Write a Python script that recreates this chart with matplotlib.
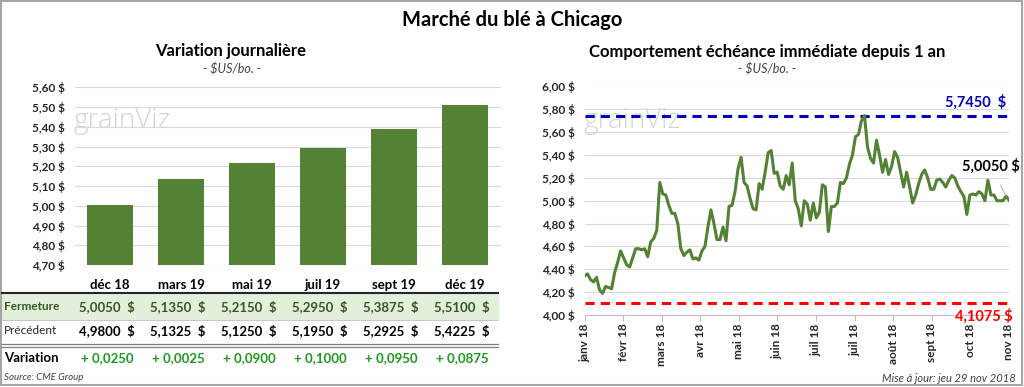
import numpy as np
import matplotlib.pyplot as plt
from matplotlib.patches import Rectangle
from matplotlib.lines import Line2D
from matplotlib.ticker import FuncFormatter

plt.rcParams['font.family'] = ['Lato', 'DejaVu Sans']

# Left panel data: closing prices per contract
contracts = ["déc 18", "mars 19", "mai 19", "juil 19", "sept 19", "déc 19"]
closing = [5.0050, 5.1350, 5.2150, 5.2950, 5.3875, 5.5100]
previous = [4.9800, 5.1325, 5.1250, 5.1950, 5.2925, 5.4225]
variation = [0.0250, 0.0025, 0.0900, 0.1000, 0.0950, 0.0875]

# Right panel data: nearby contract, last 12 months
price = [
    4.34, 4.36, 4.31, 4.29, 4.33, 4.22, 4.19, 4.25, 4.24, 4.23,
    4.37, 4.46, 4.56, 4.50, 4.44, 4.42, 4.50, 4.58, 4.58, 4.57,
    4.58, 4.51, 4.64, 4.67, 4.74, 5.16, 5.06, 5.05, 4.96, 4.89,
    4.89, 4.80, 4.58, 4.52, 4.55, 4.57, 4.49, 4.50, 4.48, 4.56,
    4.60, 4.77, 4.92, 4.80, 4.66, 4.66, 4.77, 4.65, 4.95,
    4.96, 5.08, 5.28, 5.38, 5.16, 5.13, 5.02, 4.93, 4.92, 5.15,
    5.10, 5.25, 5.42, 5.44, 5.24, 5.25, 5.13, 5.10, 5.22, 5.14,
    5.33, 5.00, 4.93, 4.78, 5.00, 4.97, 4.83, 4.98, 4.85, 4.90,
    5.14, 5.12, 4.73, 4.95, 4.95, 4.98, 5.16, 5.15, 5.20, 5.32,
    5.40, 5.56, 5.58, 5.70, 5.745, 5.47, 5.37,
    5.33, 5.53, 5.40, 5.25, 5.36, 5.23, 5.30, 5.43, 5.38, 5.25,
    5.12, 5.25, 5.12, 4.98, 5.05, 5.15, 5.23, 5.27, 5.20, 5.10,
    5.10, 5.18, 5.19, 5.16, 5.12, 5.18, 5.22, 5.20, 5.13, 5.08,
    5.04, 4.88, 5.05, 5.06, 5.05, 5.08, 5.06, 5.00, 5.18, 5.05,
    5.05, 5.00, 5.00, 5.00, 5.04, 5.005,
]
month_labels = ["janv 18", "févr 18", "mars 18", "avr 18", "mai 18", "juin 18",
                "juil 18", "juil 18", "août 18", "sept 18", "oct 18", "nov 18"]
high_1y = 5.7450
low_1y = 4.1075
last_price = 5.0050

W, H = 1024, 387
GREEN = "#548235"
GRID = "#d9d9d9"


def fx(x):
    return x / W


def fy(y):
    return 1 - y / H


def fr(v):
    return f"{v:.4f}".replace(".", ",")


fig = plt.figure(figsize=(W / 100, H / 100), dpi=100)

# outer frame
fig.patches.append(Rectangle((fx(1), fy(385)), fx(1021), 384 / H, transform=fig.transFigure,
                             fill=False, edgecolor="#a6a6a6", lw=1.5))

fig.text(fx(512), fy(20), "Marché du blé à Chicago", ha="center", va="center",
         fontsize=14.5, fontweight="bold")

# ---------------- left: bar chart ----------------
fig.text(fx(231), fy(51), "Variation journalière", ha="center", va="center",
         fontsize=12, fontweight="bold")
fig.text(fx(232), fy(69), "- $US/bo. -", ha="center", va="center",
         fontsize=9, style="italic", color="#404040")

ax1 = fig.add_axes([fx(74.5), fy(265), 426 / W, 177.7 / H])
x = np.arange(len(contracts))
ax1.bar(x, closing, width=0.66, color=GREEN, zorder=2)
ax1.set_xlim(-0.5, len(contracts) - 0.5)
ax1.set_ylim(4.70, 5.60)
ax1.set_yticks(np.arange(4.70, 5.601, 0.10))
ax1.yaxis.set_major_formatter(FuncFormatter(lambda v, p: f"{v:.2f} $".replace(".", ",")))
ax1.grid(axis="y", color=GRID, lw=0.8, zorder=0)
ax1.set_xticks([])
for s in ax1.spines.values():
    s.set_visible(False)
ax1.tick_params(axis="y", length=0, pad=7, labelsize=8.5)
for t in ax1.get_yticklabels():
    t.set_fontweight("bold")
    t.set_color("#262626")
ax1.text(-0.52, 5.43, "grainViz", fontsize=20, color="#d4d4d4", va="center", zorder=1,
         family="Open Sans", fontweight="light")

# table under the bars
col_x = [110 + 71 * i for i in range(len(contracts))]
for cx, lab in zip(col_x, contracts):
    fig.text(fx(cx), fy(285), lab, ha="center", va="center", fontsize=9.5, fontweight="bold")

fig.patches.append(Rectangle((fx(2), fy(319)), fx(496), 26 / H, transform=fig.transFigure,
                             color="#e2efda", zorder=0))
fig.lines.append(Line2D([fx(2), fx(498)], [fy(293), fy(293)], transform=fig.transFigure,
                        color="#262626", lw=1.5))
fig.lines.append(Line2D([fx(2), fx(498)], [fy(319.5), fy(319.5)], transform=fig.transFigure,
                        color="#bfbfbf", lw=0.6))
for yy in (344.3, 346.8):
    fig.lines.append(Line2D([fx(2), fx(498)], [fy(yy), fy(yy)], transform=fig.transFigure,
                            color="#7f7f7f", lw=0.9))

fig.text(fx(4), fy(307), "Fermeture", ha="left", va="center", fontsize=8.5,
         fontweight="bold", color="#375623")
fig.text(fx(4), fy(331), "Précédent", ha="left", va="center", fontsize=8.5, color="#262626")
fig.text(fx(4), fy(358), "Variation", ha="left", va="center", fontsize=9.5,
         fontweight="bold", color="#000000")
for cx, c, p, v in zip(col_x, closing, previous, variation):
    fig.text(fx(cx - 3), fy(307), f"{fr(c)}  $", ha="center", va="center", fontsize=9.5,
             fontweight="bold", color="#375623")
    fig.text(fx(cx - 3), fy(331), f"{fr(p)}  $", ha="center", va="center", fontsize=9.5,
             fontweight="bold", color="#000000")
    fig.text(fx(cx - 3), fy(358), f"+ {fr(v)}", ha="center", va="center", fontsize=9.5,
             fontweight="bold", color="#1a9a1a")

fig.text(fx(4), fy(377), "Source: CME Group", ha="left", va="center", fontsize=7,
         style="italic", color="#404040")

# ---------------- right: line chart ----------------
fig.text(fx(767), fy(52), "Comportement échéance immédiate depuis 1 an", ha="center",
         va="center", fontsize=12, fontweight="bold")
fig.text(fx(767), fy(69), "- $US/bo. -", ha="center", va="center",
         fontsize=9, style="italic", color="#404040")

ax2 = fig.add_axes([fx(584.5), fy(315), 424.5 / W, 228.5 / H])
n = len(price)
t = np.arange(n)
ax2.plot(t, price, color=GREEN, lw=2.2, zorder=3)
ax2.axhline(high_1y, color="#0000c0", lw=2.2, ls=(0, (3, 2)), zorder=2)
ax2.axhline(low_1y, color="#ff0000", lw=2.2, ls=(0, (3, 2)), zorder=2)
ax2.set_xlim(0, n - 1)
ax2.set_ylim(4.00, 6.00)
ax2.set_yticks(np.arange(4.00, 6.001, 0.20))
ax2.yaxis.set_major_formatter(FuncFormatter(lambda v, p: f"{v:.2f} $".replace(".", ",")))
ax2.set_xticks(np.linspace(0, n - 1, len(month_labels)))
ax2.set_xticklabels(month_labels, rotation=90)
ax2.grid(axis="y", color=GRID, lw=0.8, zorder=0)
for s in ("top", "right", "left"):
    ax2.spines[s].set_visible(False)
ax2.spines["bottom"].set_color("#bfbfbf")
ax2.tick_params(axis="y", length=0, pad=7, labelsize=8.5)
ax2.tick_params(axis="x", length=4, color="#bfbfbf", labelsize=8.5, pad=2)
for lab in ax2.get_yticklabels() + ax2.get_xticklabels():
    lab.set_fontweight("bold")
    lab.set_color("#262626")
ax2.text(-0.5, 5.70, "grainViz", fontsize=20, color="#d4d4d4", va="center", zorder=1,
         family="Open Sans", fontweight="light")

ax2.annotate(f"{fr(high_1y)}  $", xy=(n - 1, high_1y), xytext=(-2, 4),
             textcoords="offset points", ha="right", va="bottom", fontsize=10.5,
             fontweight="bold", color="#0000c0")
ax2.annotate(f"{fr(low_1y)} $", xy=(n - 1, low_1y), xytext=(3, -4),
             textcoords="offset points", ha="right", va="top", fontsize=10.5,
             fontweight="bold", color="#ff0000", annotation_clip=False)
ax2.annotate(f"{fr(last_price)} $", xy=(n - 2, price[-2]), xytext=(n - 7, 5.30),
             ha="center", va="center", fontsize=10.5, fontweight="bold", color="#000000",
             annotation_clip=False,
             arrowprops=dict(arrowstyle="-", color="#a6a6a6", lw=0.6, shrinkA=7, shrinkB=0))

fig.text(fx(1016), fy(378), "Mise à jour: jeu 29 nov 2018", ha="right", va="center",
         fontsize=8, style="italic", color="#404040")

fig.savefig("out.png", dpi=100)
